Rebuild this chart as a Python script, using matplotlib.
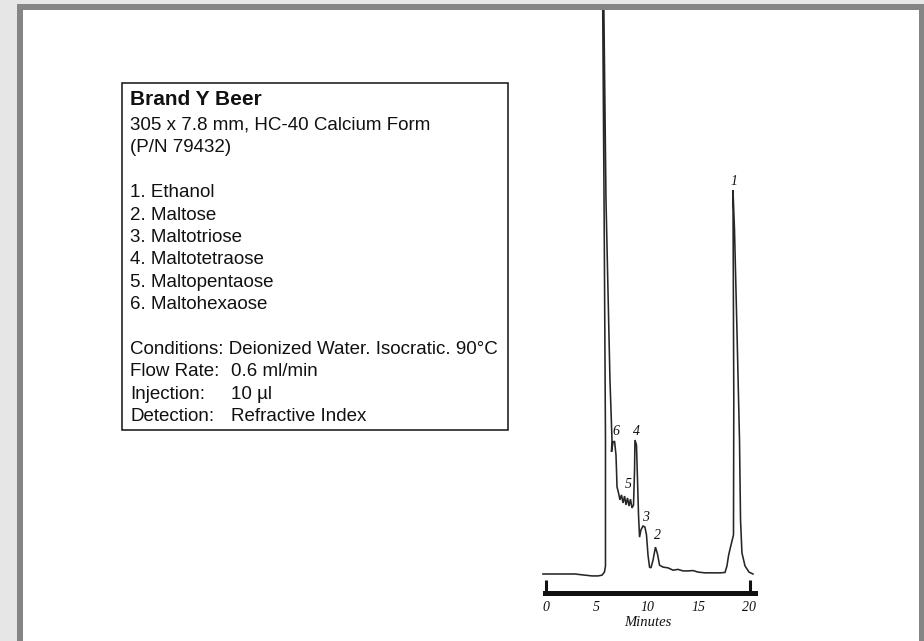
import matplotlib
matplotlib.use("Agg")
import matplotlib.pyplot as plt
from matplotlib.patches import Rectangle

W, H = 924, 641

# Detector trace: retention time (min) and relative RI response (ethanol peak = 100)
time_min = [
    -0.25, 1.42, 2.89, 3.87, 4.56, 5.15, 5.54, 5.78, 5.88, 5.88, 5.74, 5.59,
    5.69, 5.93, 6.32, 6.52, 6.47, 6.62, 6.77, 6.91, 6.96, 7.01,
    7.16, 7.30, 7.45, 7.60, 7.75, 7.89, 8.04, 8.19, 8.33, 8.48, 8.63,
    8.73, 8.77, 8.92, 9.02, 9.12, 9.22, 9.36, 9.56, 9.75, 9.90, 10.05,
    10.20, 10.34, 10.54, 10.78, 10.98, 11.18, 11.52, 12.01, 12.50, 12.99,
    13.48, 13.97, 14.46, 14.95, 15.64, 16.32, 17.11, 17.60, 17.79, 17.94,
    18.09, 18.24, 18.43, 18.46, 18.38, 18.53, 18.77, 19.02, 19.12, 19.26,
    19.56, 19.95, 20.34,
]
response = [
    0.0, 0.0, 0.0, -0.3, -0.5, -0.5, -0.3, 0.5, 2.1, 34.9, 97.4, 154.7,
    154.7, 97.4, 50.5, 34.9, 31.8, 34.3, 34.6, 31.0, 27.1, 22.7,
    21.1, 19.3, 20.6, 18.5, 20.3, 18.0, 19.8, 17.7, 19.5, 17.2, 18.0,
    27.1, 34.9, 33.6, 24.5, 15.4, 9.6, 11.5, 12.5, 12.2, 10.2, 4.9,
    1.8, 1.6, 3.6, 7.0, 5.2, 2.3, 1.8, 1.6, 1.0, 1.2,
    0.8, 0.8, 0.9, 0.5, 0.3, 0.3, 0.3, 0.4, 2.1, 4.7,
    6.5, 8.1, 10.2, 45.3, 100.0, 89.6, 63.5, 34.9, 14.1, 5.5,
    2.1, 0.5, 0.0,
]

# Peak numbers and where their labels sit
peak_ids = ["6", "4", "5", "3", "2", "1"]
label_time = [6.91, 8.87, 8.09, 9.85, 10.98, 18.48]
label_resp = [37.2, 37.2, 23.2, 14.8, 9.9, 102.1]

axis_ticks = [0, 5, 10, 15, 20]
tick_labels = ["0", "5", "10", "15", "20"]

title = "Brand Y Beer"
column_lines = ["305 x 7.8 mm, HC-40 Calcium Form", "(P/N 79432)"]
components = ["Ethanol", "Maltose", "Maltotriose", "Maltotetraose",
              "Maltopentaose", "Maltohexaose"]
conditions = "Conditions: Deionized Water. Isocratic. 90°C"
settings = [("Flow Rate:", "0.6 ml/min"),
            ("Injection:", "10 µl"),
            ("Detection:", "Refractive Index")]

SANS = "Liberation Sans"
SERIF = "Liberation Serif"
INK = "#111111"


def fx(x):
    return x / W


def fy(y):
    return 1 - y / H


fig = plt.figure(figsize=(W / 100, H / 100), dpi=100)

# page frame: light margin, grey rule, white panel
fig.patches.append(Rectangle((0, 0), 1, 1, transform=fig.transFigure,
                             facecolor="#e6e6e6", edgecolor="none", zorder=-10))
fig.patches.append(Rectangle((fx(17), 0), 1, fy(4), transform=fig.transFigure,
                             facecolor="#858585", edgecolor="none", zorder=-9))
fig.patches.append(Rectangle((fx(23), 0), fx(919) - fx(23), fy(10),
                             transform=fig.transFigure,
                             facecolor="white", edgecolor="none", zorder=-8))

# chromatogram
x0_px, px_per_min = 545.5, 10.2
base_px, px_per_unit = 574.0, 3.84
xmin, xmax = -1.0, 21.0
top_px, bot_px = 10.0, 593.0
ax = fig.add_axes([fx(x0_px + xmin * px_per_min), fy(bot_px),
                   (xmax - xmin) * px_per_min / W, (bot_px - top_px) / H])
ax.set_facecolor("none")
ax.set_xlim(xmin, xmax)
ax.set_ylim(-(bot_px - base_px) / px_per_unit, (base_px - top_px) / px_per_unit)

ax.plot(time_min, response, color="#262626", lw=1.15, solid_joinstyle="miter")

for pid, t, r in zip(peak_ids, label_time, label_resp):
    ax.text(t, r, pid, fontsize=10, family=SERIF, style="italic",
            ha="center", va="center", color=INK)

for side in ("top", "left", "right"):
    ax.spines[side].set_visible(False)
ax.spines["bottom"].set_linewidth(3.6)
ax.spines["bottom"].set_color(INK)
ax.spines["bottom"].set_bounds(-0.05, 20.5)
ax.set_yticks([])
ax.set_xticks(axis_ticks)
ax.set_xticklabels(tick_labels, fontsize=10, family=SERIF, style="italic",
                   color=INK)
ax.tick_params(axis="x", direction="in", length=9.4, width=2.2, color=INK,
               pad=6.0)
for tk in ax.xaxis.get_major_ticks()[1:-1]:
    tk.tick1line.set_visible(False)
ax.set_xlabel("Minutes", fontsize=10.5, family=SERIF, style="italic",
              color=INK, labelpad=1)

# description box
box_l, box_t, box_r, box_b = 122, 83, 508, 430
fig.patches.append(Rectangle((fx(box_l), fy(box_b)), fx(box_r) - fx(box_l),
                             fy(box_t) - fy(box_b), transform=fig.transFigure,
                             facecolor="white", edgecolor=INK, lw=1.1, zorder=1))

tx, val_x, line_h = 130, 231, 22.4
fig.text(fx(tx), fy(105), title, fontsize=15, family=SANS, weight="bold",
         va="baseline", color=INK)
lines = column_lines + [""] + [f"{i}. {c}" for i, c in enumerate(components, 1)] \
    + [""] + [conditions]
y = 130.0
for s in lines:
    if s:
        fig.text(fx(tx), fy(y), s, fontsize=13.5, family=SANS,
                 va="baseline", color=INK)
    y += line_h
for lab, val in settings:
    fig.text(fx(tx), fy(y), lab, fontsize=13.5, family=SANS,
             va="baseline", color=INK)
    fig.text(fx(val_x), fy(y), val, fontsize=13.5, family=SANS,
             va="baseline", color=INK)
    y += line_h

fig.savefig("out.png", dpi=100)
